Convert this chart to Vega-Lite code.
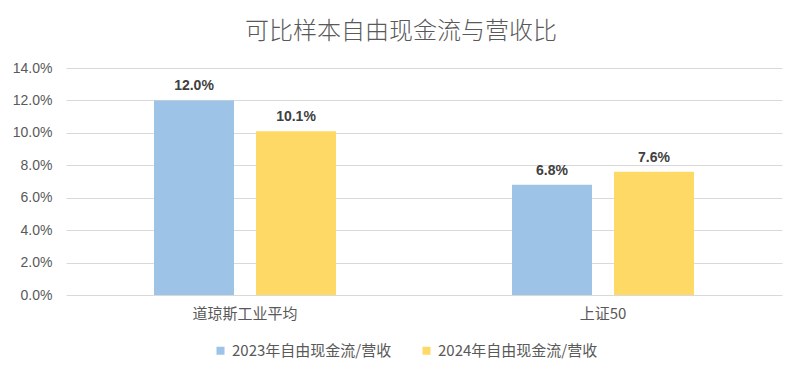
{
  "$schema": "https://vega.github.io/schema/vega-lite/v6.json",
  "autosize": "none",
  "width": 716,
  "height": 227,
  "padding": {"left": 66, "top": 68, "right": 20, "bottom": 83},
  "background": "white",
  "title": {
    "text": "可比样本自由现金流与营收比",
    "fontSize": 24,
    "font": "Noto Sans CJK SC",
    "fontWeight": 300,
    "color": "#595959",
    "anchor": "middle",
    "dx": -23,
    "offset": 17
  },
  "config": {
    "font": "Liberation Sans, Noto Sans CJK SC",
    "view": {"stroke": null}
  },
  "data": {
    "values": [
      {"index": "道琼斯工业平均", "series": "2023年自由现金流/营收", "value": 0.120},
      {"index": "道琼斯工业平均", "series": "2024年自由现金流/营收", "value": 0.101},
      {"index": "上证50", "series": "2023年自由现金流/营收", "value": 0.068},
      {"index": "上证50", "series": "2024年自由现金流/营收", "value": 0.076}
    ]
  },
  "encoding": {
    "x": {
      "field": "index",
      "type": "nominal",
      "sort": ["道琼斯工业平均", "上证50"],
      "scale": {"paddingInner": 0, "paddingOuter": 0},
      "axis": {
        "title": null,
        "labelAngle": 0,
        "labelFontSize": 15,
        "labelColor": "#595959",
        "labelFont": "Noto Sans CJK SC",
        "labelPadding": 11,
        "ticks": false,
        "domain": false,
        "grid": false
      }
    },
    "xOffset": {
      "field": "series",
      "type": "nominal",
      "scale": {"paddingInner": 0.2157, "paddingOuter": 0.8627}
    },
    "y": {
      "field": "value",
      "type": "quantitative",
      "scale": {"domain": [0, 0.14]},
      "axis": {
        "title": null,
        "format": ".1%",
        "values": [0, 0.02, 0.04, 0.06, 0.08, 0.1, 0.12, 0.14],
        "labelFontSize": 14,
        "labelColor": "#595959",
        "labelPadding": 14,
        "ticks": false,
        "domain": false,
        "gridColor": "#D9D9D9",
        "gridWidth": 1
      }
    }
  },
  "layer": [
    {
      "mark": {"type": "bar"},
      "encoding": {
        "color": {
          "field": "series",
          "type": "nominal",
          "scale": {"range": ["#9DC3E6", "#FFD966"]},
          "legend": {
            "title": null,
            "orient": "none",
            "direction": "horizontal",
            "legendX": 147,
            "legendY": 275,
            "symbolType": "square",
            "symbolSize": 64,
            "symbolStrokeWidth": 0,
            "labelFontSize": 15,
            "labelFont": "Noto Sans CJK SC",
            "labelColor": "#595959",
            "labelOffset": 4,
            "columnPadding": 27
          }
        }
      }
    },
    {
      "mark": {"type": "text", "baseline": "bottom", "dy": -7, "fontSize": 14, "fontWeight": "bold", "color": "#404040"},
      "encoding": {
        "text": {"field": "value", "type": "quantitative", "format": ".1%"}
      }
    }
  ]
}
